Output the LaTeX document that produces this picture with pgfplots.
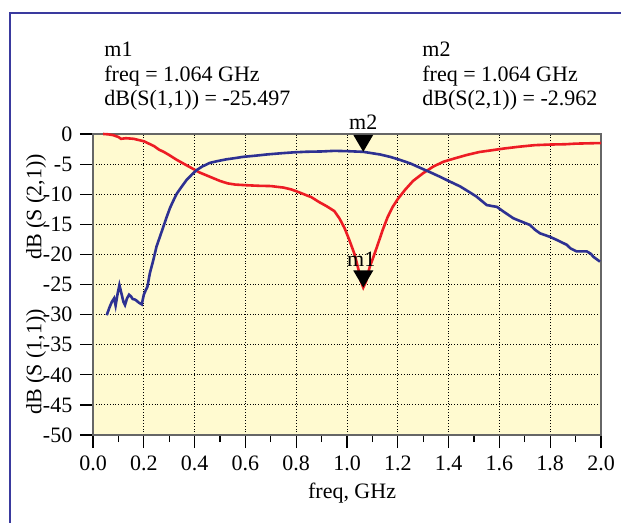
\documentclass[border=0pt]{standalone}
\usepackage{fontspec}
\setmainfont{Liberation Serif}
\usepackage{pgfplots}
\pgfplotsset{compat=1.18}
\definecolor{sred}{RGB}{237,28,36}
\definecolor{sblue}{RGB}{46,49,146}
\definecolor{bgyel}{RGB}{255,250,208}
\definecolor{frameblue}{RGB}{58,58,158}
% marker triangle, tip at the data point, pointing down
\pgfdeclareplotmark{mtri}{%
  \pgfpathmoveto{\pgfpoint{0pt}{0pt}}%
  \pgfpathlineto{\pgfpoint{-5pt}{8.5pt}}%
  \pgfpathlineto{\pgfpoint{5pt}{8.5pt}}%
  \pgfpathclose\pgfusepathqfill}
\begin{document}
\fontsize{11}{13}\selectfont
\begin{tikzpicture}[x=0.5pt,y=-0.5pt]
\path[use as bounding box] (0,0) rectangle (621,523);
\draw[frameblue, line width=1.3pt] (10,523) -- (10,13) -- (621,13);

\node[anchor=base west, inner sep=0] at (104,57) {m1};
\node[anchor=base west, inner sep=0] at (104,82) {freq = 1.064 GHz};
\node[anchor=base west, inner sep=0] at (104,106) {dB(S(1,1)) = -25.497};
\node[anchor=base west, inner sep=0] at (422,57) {m2};
\node[anchor=base west, inner sep=0] at (422,82) {freq = 1.064 GHz};
\node[anchor=base west, inner sep=0] at (422,106) {dB(S(2,1)) = -2.962};

\node[rotate=90, inner sep=0] at (36,207) {dB (S (2,1))};
\node[rotate=90, inner sep=0] at (36,362) {dB (S (1,1))};

\begin{axis}[
  at={(46.5pt,-217.5pt)}, anchor=south west,
  scale only axis, width=254pt, height=150.5pt,
  xmin=0, xmax=2, ymin=-50, ymax=0,
  xtick={0,0.2,0.4,0.6,0.8,1.0,1.2,1.4,1.6,1.8,2.0},
  minor xtick={0.1,0.3,0.5,0.7,0.9,1.1,1.3,1.5,1.7,1.9},
  ytick={-50,-45,-40,-35,-30,-25,-20,-15,-10,-5,0},
  xtick pos=bottom, ytick pos=left,
  tick align=outside,
  major tick length=6.5pt, minor tick length=3.5pt,
  tick style={black, line width=0.6pt},
  axis line style={draw=black!60, line width=0.9pt},
  grid=major,
  major grid style={densely dotted, black, line width=0.5pt},
  axis background/.style={fill=bgyel},
  /pgf/number format/assume math mode=true,
  ticklabel style={font=\fontsize{11}{13}\selectfont},
  xticklabel style={/pgf/number format/.cd, fixed, fixed zerofill, precision=1},
  xlabel={freq, GHz},
  xlabel style={at={(axis description cs:0.51,-0.193)}, anchor=center, inner sep=0},
  clip=false,
]
\addplot[sred, line width=1.3pt] coordinates {
(0.04,0) (0.06,-0.05) (0.08,-0.2) (0.10,-0.5) (0.11,-0.8) (0.13,-0.7) (0.16,-0.8)
(0.18,-1.0) (0.20,-1.2) (0.22,-1.6) (0.24,-2.0) (0.26,-2.6) (0.28,-3.0) (0.30,-3.5)
(0.33,-4.3) (0.36,-5.0) (0.39,-5.7) (0.42,-6.4) (0.46,-7.1) (0.50,-7.8) (0.53,-8.2)
(0.56,-8.4) (0.60,-8.5) (0.65,-8.6) (0.70,-8.65) (0.75,-8.9) (0.78,-9.2) (0.80,-9.5)
(0.83,-10.0) (0.86,-10.5) (0.89,-11.3) (0.92,-12.0) (0.95,-12.8) (0.97,-14.0)
(0.99,-15.6) (1.01,-17.7) (1.03,-20.0) (1.045,-22.5) (1.055,-24.5) (1.064,-25.497)
(1.075,-24.5) (1.09,-22.0) (1.10,-20.9) (1.12,-18.5) (1.14,-16.0) (1.16,-13.8)
(1.18,-12.1) (1.20,-10.8) (1.23,-9.2) (1.26,-7.8) (1.30,-6.5) (1.34,-5.4) (1.38,-4.6)
(1.42,-4.1) (1.47,-3.5) (1.52,-3.0) (1.57,-2.7) (1.62,-2.4) (1.68,-2.1) (1.74,-1.85)
(1.80,-1.75) (1.86,-1.7) (1.90,-1.6) (1.95,-1.55) (2.0,-1.5)
};
\addplot[sblue, line width=1.3pt] coordinates {
(0.054,-30.1) (0.065,-28.8) (0.074,-27.9) (0.083,-27.3) (0.089,-28.5) (0.097,-26.5)
(0.104,-25.1) (0.112,-26.5) (0.12,-27.9) (0.126,-28.4) (0.134,-27.3) (0.142,-26.7)
(0.15,-27.0) (0.156,-27.4) (0.165,-27.5) (0.172,-27.7) (0.18,-28.0) (0.192,-28.3)
(0.20,-26.7) (0.208,-25.9) (0.214,-25.4) (0.224,-23.1) (0.234,-21.5) (0.244,-19.8)
(0.25,-18.7) (0.264,-17.0) (0.277,-15.4) (0.29,-13.8) (0.303,-12.3) (0.316,-11.1)
(0.33,-9.9) (0.35,-8.7) (0.369,-7.6) (0.39,-6.7) (0.408,-6.0) (0.43,-5.4) (0.46,-4.8)
(0.49,-4.5) (0.526,-4.2) (0.56,-4.0) (0.59,-3.8) (0.64,-3.6) (0.684,-3.4) (0.74,-3.2)
(0.789,-3.05) (0.84,-2.95) (0.90,-2.9) (0.95,-2.8) (1.00,-2.85) (1.064,-2.962)
(1.10,-3.2) (1.13,-3.4) (1.17,-3.8) (1.209,-4.3) (1.25,-4.9) (1.287,-5.6) (1.33,-6.4)
(1.366,-7.1) (1.40,-7.8) (1.445,-8.7) (1.48,-9.6) (1.51,-10.4) (1.53,-11.1)
(1.55,-11.8) (1.575,-12.0) (1.59,-12.1) (1.62,-13.0) (1.655,-14.0) (1.69,-14.6)
(1.72,-15.1) (1.74,-15.9) (1.76,-16.5) (1.80,-17.1) (1.826,-17.6) (1.865,-18.4)
(1.88,-19.0) (1.904,-19.5) (1.944,-19.5) (1.96,-19.9) (1.97,-20.4) (1.996,-21.2)
};
\addplot[only marks, mark=mtri, black] coordinates {(1.064,-2.962)};
\addplot[only marks, mark=mtri, black] coordinates {(1.064,-25.497)};
\node[anchor=base, inner sep=0, yshift=11.25pt] at (axis cs:1.064,-2.962) {m2};
\node[anchor=base, inner sep=0, yshift=10.25pt, xshift=-1pt] at (axis cs:1.064,-25.497) {m1};
\end{axis}
\end{tikzpicture}
\end{document}
